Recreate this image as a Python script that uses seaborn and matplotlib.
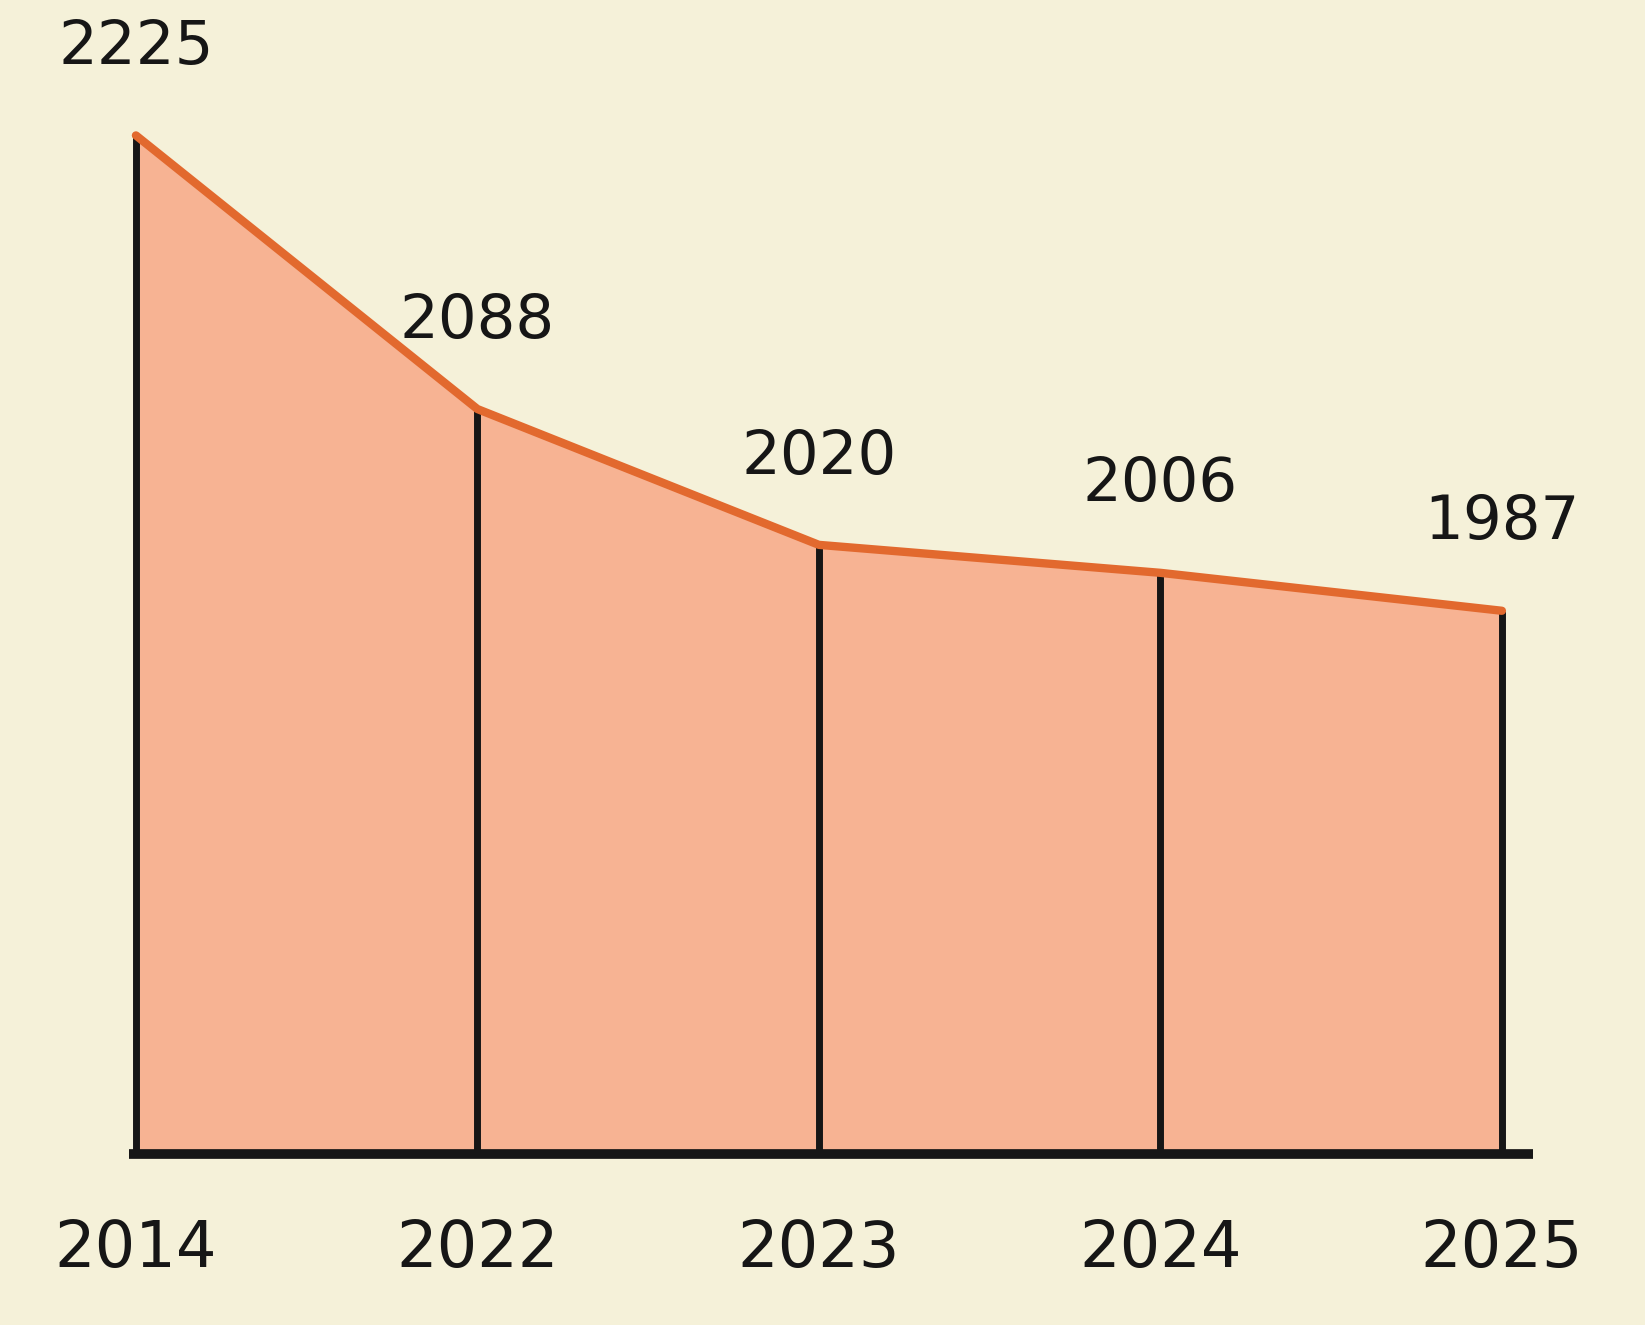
import numpy as np
import pandas as pd
import matplotlib
matplotlib.use("Agg")
import matplotlib.pyplot as plt
import seaborn as sns

# values
years = ["2014", "2022", "2023", "2024", "2025"]
values = [2225, 2088, 2020, 2006, 1987]
baseline = 1715  # where the drawn floor sits (chart is not zero-based)

BG = "#F5F1D9"
FILL = "#F7B393"
LINE = "#E2692E"
INK = "#161616"

sns.set_theme(style="white")
plt.rcParams["font.family"] = ["DejaVu Sans"]

df = pd.DataFrame({"year": years, "value": values})
df["pos"] = np.arange(len(df))

fig = plt.figure(figsize=(16.45, 13.25), dpi=100, facecolor=BG)
ax = fig.add_axes([0, 0, 1, 1])
ax.set_facecolor(BG)

# area under the line
ax.fill_between(df["pos"], baseline, df["value"], color=FILL, linewidth=0, zorder=1)

# vertical pencil strokes at each point
ax.vlines(df["pos"], baseline, df["value"], color=INK, linewidth=5, zorder=2)

# top line
sns.lineplot(data=df, x="pos", y="value", color=LINE, linewidth=6, ax=ax,
             zorder=3, solid_capstyle="round")

# floor line
ax.hlines(baseline, -0.02, len(df) - 1 + 0.09, color=INK, linewidth=7, zorder=4)

# value labels above each point
for _, r in df.iterrows():
    ax.annotate(f"{r['value']}", (r["pos"], r["value"]), xytext=(0, 42),
                textcoords="offset points", ha="center", va="bottom",
                fontsize=44, color=INK)

# year labels under the floor
for _, r in df.iterrows():
    ax.annotate(r["year"], (r["pos"], baseline), xytext=(0, -46),
                textcoords="offset points", ha="center", va="top",
                fontsize=46, color=INK)

ax.set_xlim(-0.398, 4.419)
ax.set_ylim(1629.4, 2292.8)
ax.set_axis_off()

fig.savefig("out.png", dpi=100, facecolor=BG)
plt.close(fig)
